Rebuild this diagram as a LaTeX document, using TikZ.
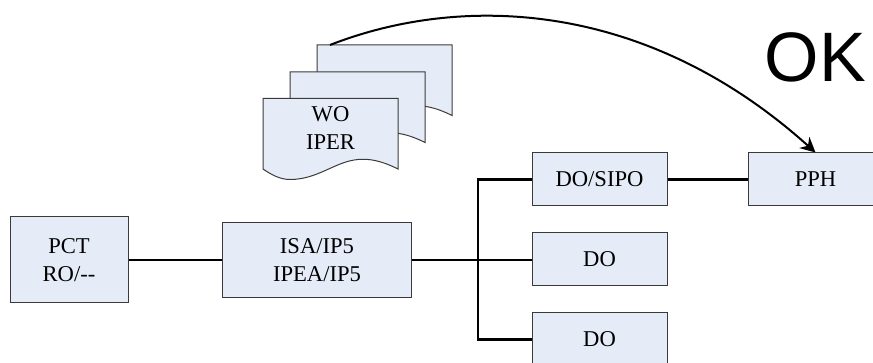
\documentclass[tikz,border=0pt]{standalone}
\usepackage{fontspec}
\setmainfont{Liberation Serif}
\newfontfamily\oksans{Liberation Sans}
\usetikzlibrary{arrows.meta}
\definecolor{boxfill}{HTML}{E6ECF7}
\definecolor{boxline}{HTML}{3A3A3A}
\tikzset{
  procbox/.style={draw=boxline,fill=boxfill,line width=1pt,minimum width=#1,inner sep=0pt,align=center,font=\fontsize{22.6}{28}\selectfont},
  wire/.style={line width=2.4pt,black},
  docpage/.style={draw=boxline,fill=boxfill,line width=1pt,line join=miter},
  pics/stackdoc/.style={code={
    \path[docpage] (0,0) -- (135,0) -- (135,70.5)
      .. controls (118,62) and (106,60) .. (95,61)
      .. controls (72,63) and (55,81) .. (27,81)
      .. controls (17,81) and (8,76) .. (0,70.5) -- cycle;
  }}
}
\begin{document}
\begin{tikzpicture}[x=1pt,y=-1pt]
\useasboundingbox (0,0) rectangle (873,363);
\clip (0,0) rectangle (873,363);
\pic at (317,45) {stackdoc};
\pic at (290,72) {stackdoc};
\pic at (263,98.5) {stackdoc};
\node[font=\fontsize{22.6}{28}\selectfont,align=center] (doc) at (330.5,128) {WO\\IPER};
\coordinate (curvestart) at (330,45);
\node[procbox=118pt,minimum height=86pt] (pct) at (69,260) {PCT\\RO/-{}-};
\node[procbox=189pt,minimum height=75pt] (isa) at (317,260) {ISA/IP5\\IPEA/IP5};
\node[procbox=135pt,minimum height=53pt] (sipo) at (599.5,179.5) {DO/SIPO};
\node[procbox=135pt,minimum height=53pt] (do1) at (599.5,259.5) {DO};
\node[procbox=135pt,minimum height=53pt] (do2) at (599.5,339.5) {DO};
\node[procbox=135pt,minimum height=53pt] (pph) at (815.5,179.5) {PPH};
\coordinate (hub) at (478,260);
\draw[wire] (pct) -- (isa);
\draw[wire] (isa.east |- hub) -- (hub) -- (hub -| do1.west);
\draw[wire] (sipo.west) -| (hub);
\draw[wire] (do2.west) -| (hub);
\draw[wire] (sipo) -- (pph);
\draw[line width=2pt,-{Stealth[length=15pt,width=15pt]}] (curvestart) .. controls (460,-6) and (645,-1) .. (pph.north);
\node[font=\oksans\fontsize{70}{70}\selectfont,anchor=center,inner sep=0pt] (ok) at (815.5,57.5) {OK};
\end{tikzpicture}
\end{document}
